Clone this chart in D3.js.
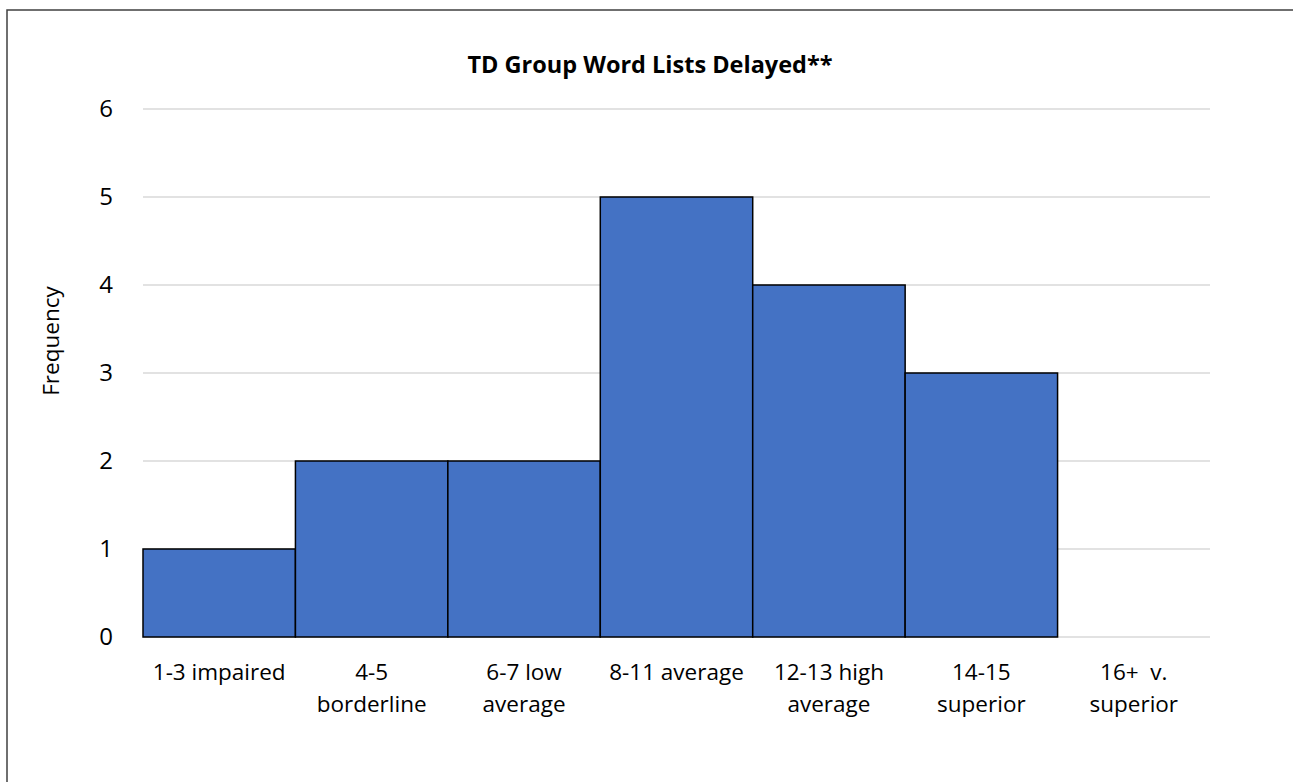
<!DOCTYPE html>
<html>
<head>
<meta charset="utf-8">
<script src="https://cdn.jsdelivr.net/npm/d3@7"></script>
<style>
  body { margin: 0; background: #fff; }
  text { font-family: "Open Sans", "Noto Sans", sans-serif; fill: #000; white-space: pre; }
</style>
</head>
<body>
<script>
//chart data
var categories = [["1-3 impaired"], ["4-5", "borderline"], ["6-7 low", "average"],
    ["8-11 average"], ["12-13 high", "average"], ["14-15", "superior"], ["16+  v.", "superior"]];
var frequency = [1, 2, 2, 5, 4, 3, 0];
var yTicks = [0, 1, 2, 3, 4, 5, 6];
var chartTitle = "TD Group Word Lists Delayed**";

window.onload = drawChart();

function drawChart() {
    var width = 1293,
        height = 782;

    var svg = d3.select("body")
        .append("svg")
        .attr("width", width)
        .attr("height", height);

    //outer frame (right and bottom fall outside the window)
    svg.append("rect")
        .attr("x", 7)
        .attr("y", 10)
        .attr("width", width + 20)
        .attr("height", height + 20)
        .attr("fill", "none")
        .attr("stroke", "#404040")
        .attr("stroke-width", 1.5);

    var x = d3.scaleBand()
        .domain(d3.range(categories.length))
        .range([143, 1210])
        .padding(0);

    var y = d3.scaleLinear()
        .domain([0, 6])
        .range([637, 109]);

    //gridlines
    svg.selectAll(".grid")
        .data(yTicks)
        .enter()
        .append("line")
        .attr("class", "grid")
        .attr("x1", 143)
        .attr("x2", 1210)
        .attr("y1", function(d) { return y(d); })
        .attr("y2", function(d) { return y(d); })
        .attr("stroke", "#d9d9d9")
        .attr("stroke-width", 1.5);

    //bars (empty bins draw nothing)
    svg.selectAll(".bar")
        .data(frequency)
        .enter()
        .append("rect")
        .attr("class", "bar")
        .attr("x", function(d, i) { return x(i); })
        .attr("y", function(d) { return y(d); })
        .attr("width", x.bandwidth())
        .attr("height", function(d) { return y(0) - y(d); })
        .attr("fill", "#4472c4")
        .attr("stroke", function(d) { return d > 0 ? "#000" : "none"; })
        .attr("stroke-width", 1.5);

    //y axis labels
    var yAxis = d3.axisLeft(y)
        .tickValues(yTicks)
        .tickFormat(d3.format("d"))
        .tickSize(0)
        .tickPadding(17);
    var yg = svg.append("g")
        .attr("transform", "translate(130,0)")
        .call(yAxis);
    yg.select(".domain").remove();
    yg.selectAll("text")
        .attr("font-size", 24)
        .style("font-family", "'Open Sans', sans-serif")
        .attr("fill", "#000");

    //x category labels
    var xl = svg.selectAll(".xlab")
        .data(categories)
        .enter()
        .append("text")
        .attr("class", "xlab")
        .attr("text-anchor", "middle")
        .attr("font-size", 22.5)
        .attr("x", function(d, i) { return x(i) + x.bandwidth() / 2; })
        .attr("y", 680);
    xl.selectAll("tspan")
        .data(function(d) { return d; })
        .enter()
        .append("tspan")
        .attr("x", function() { return d3.select(this.parentNode).attr("x"); })
        .attr("dy", function(d, i) { return i === 0 ? 0 : 32; })
        .text(function(d) { return d; });

    //y axis title
    svg.append("text")
        .attr("transform", "translate(59,341) rotate(-90)")
        .attr("text-anchor", "middle")
        .attr("font-size", 22.5)
        .text("Frequency");

    //chart title
    svg.append("text")
        .attr("x", 650)
        .attr("y", 73)
        .attr("text-anchor", "middle")
        .attr("font-size", 23.5)
        .attr("font-weight", "bold")
        .text(chartTitle);
}
</script>
</body>
</html>
